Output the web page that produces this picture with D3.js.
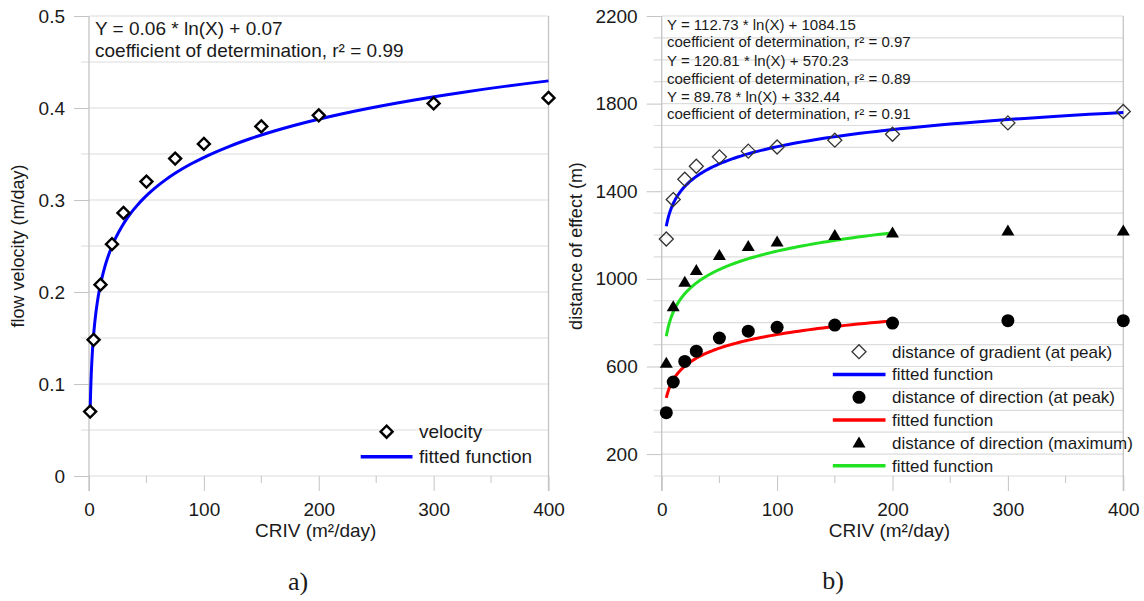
<!DOCTYPE html>
<html>
<head>
<meta charset="utf-8">
<script src="https://cdn.jsdelivr.net/npm/d3@7"></script>
<style>
  body { margin: 0; background: #fff; }
  svg text { font-family: "Liberation Sans", Arial, sans-serif; fill: #1a1a1a; }
  .tick text { font-size: 19px; }
  .tick line { stroke: #c4c4c4; }
</style>
</head>
<body>
<div id="vis"></div>
<script>
// data
const CRIV_A = [1, 4, 10, 20, 30, 50, 75, 100, 150, 200, 300, 400];
const VELOCITY = [0.07, 0.148, 0.208, 0.252, 0.286, 0.32, 0.345, 0.361, 0.38, 0.392, 0.405, 0.411];

const CRIV_B = [4, 10, 20, 30, 50, 75, 100, 150, 200, 300, 400];
const GRADIENT_PEAK = [1182, 1362, 1455, 1514, 1557, 1583, 1602, 1633, 1660, 1712, 1764];
const DIRECTION_PEAK = [389, 529, 623, 670, 730, 761, 779, 789, 798, 809, 809];
const DIRECTION_MAX = [615, 873, 985, 1038, 1107, 1148, 1168, 1198, 1209, 1218, 1218];

// fitted functions Y = a * ln(X) + b, with the range of X they are drawn on
const FIT_A = [0.06];
const FIT_B = [0.07];
const FIT_B_SLOPE = [112.73, 120.81, 89.78];
const FIT_B_INTERCEPT = [1084.15, 570.23, 332.44];
const FIT_B_R2 = ["0.97", "0.89", "0.91"];
const FIT_B_XMAX = [400, 200, 200];
const FIT_B_COLORS = ["#0000ff", "#22e022", "#ff0000"];

const X_TICKS = [0, 100, 200, 300, 400];
const Y_TICKS_A = [0, 0.1, 0.2, 0.3, 0.4, 0.5];
const Y_TICKS_B = [200, 600, 1000, 1400, 1800, 2200];

const FRAME_WIDTH = 1144;
const FRAME_HEIGHT = 601;

const SVG = d3.select("#vis").append("svg")
  .attr("width", FRAME_WIDTH)
  .attr("height", FRAME_HEIGHT);

const GRID = "#dcdcdc";
const AXIS = "#c4c4c4";

function diamond(r) { return "M0," + (-r) + "L" + r + ",0L0," + r + "L" + (-r) + ",0Z"; }
const TRIANGLE = "M0,-6.5L6.5,4.5L-6.5,4.5Z";

// draws the frame, grid, ticks and labels of one panel
function drawFrame(xs, ys, yTicks, yStep, yFmt) {
  const g = SVG.append("g");
  const [x0, x1] = xs.range();
  const [yb, yt] = ys.range();
  const [d0, d1] = ys.domain();

  // horizontal grid lines, minor ones stick out a little to the left
  const gridVals = d3.range(Math.round((d1 - d0) / yStep) + 1).map(i => d0 + i * yStep);
  g.selectAll(".grid").data(gridVals).enter().append("line")
    .attr("x1", d => yTicks.some(t => Math.abs(t - d) < 1e-9) ? x0 : x0 - 8)
    .attr("x2", x1)
    .attr("y1", d => ys(d)).attr("y2", d => ys(d))
    .attr("stroke", GRID).attr("stroke-width", 1.2);

  // minor x ticks
  g.selectAll(".minor").data([50, 150, 250, 350]).enter().append("line")
    .attr("x1", d => xs(d)).attr("x2", d => xs(d))
    .attr("y1", yb).attr("y2", yb + 7)
    .attr("stroke", AXIS);

  // left axis and right border
  g.selectAll(".side").data([0, 400]).enter().append("line")
    .attr("x1", d => xs(d)).attr("x2", d => xs(d))
    .attr("y1", yt).attr("y2", yb + 15)
    .attr("stroke", AXIS).attr("stroke-width", 1.3);

  g.append("g")
    .attr("transform", "translate(" + x0 + ",0)")
    .call(d3.axisLeft(ys).tickValues(yTicks).tickSize(15).tickPadding(9).tickFormat(yFmt))
    .call(a => a.select(".domain").remove());

  g.append("g")
    .attr("transform", "translate(0," + yb + ")")
    .call(d3.axisBottom(xs).tickValues(X_TICKS).tickSize(15).tickPadding(12))
    .call(a => a.select(".domain").remove());

  g.append("text")
    .attr("x", (x0 + x1) / 2 - 3).attr("y", 537)
    .attr("text-anchor", "middle").attr("font-size", 19)
    .text("CRIV (m²/day)");
}

function curvePoints(a, b, xmin, xmax) {
  return d3.range(121).map(i => {
    const x = xmin * Math.pow(xmax / xmin, i / 120);
    return [x, a * Math.log(x) + b];
  });
}

// ---------- panel a ----------
const X_SCALE1 = d3.scaleLinear().domain([0, 400]).range([89, 548.5]);
const Y_SCALE1 = d3.scaleLinear().domain([0, 0.5]).range([476, 16]);

drawFrame(X_SCALE1, Y_SCALE1, Y_TICKS_A, 0.05, d3.format(""));

SVG.append("path")
  .datum(curvePoints(FIT_A[0], FIT_B[0], CRIV_A[0], 400))
  .attr("d", d3.line().x(d => X_SCALE1(d[0])).y(d => Y_SCALE1(d[1])))
  .attr("fill", "none").attr("stroke", "#0000ff").attr("stroke-width", 3);

SVG.selectAll(".vel").data(CRIV_A).enter().append("path")
  .attr("d", diamond(6))
  .attr("transform", (d, i) => "translate(" + X_SCALE1(d) + "," + Y_SCALE1(VELOCITY[i]) + ")")
  .attr("fill", "#fff").attr("stroke", "#000").attr("stroke-width", 2.4);

SVG.append("text").attr("x", 95).attr("y", 35).attr("font-size", 19)
  .text("Y = " + FIT_A[0] + " * ln(X) + " + FIT_B[0]);
SVG.append("text").attr("x", 95).attr("y", 57).attr("font-size", 19)
  .text("coefficient of determination, r² = 0.99");

// legend a
SVG.append("path").attr("d", diamond(6))
  .attr("transform", "translate(386.6,431.7)")
  .attr("fill", "#fff").attr("stroke", "#000").attr("stroke-width", 2.4);
SVG.append("line").attr("x1", 360.7).attr("x2", 412.5).attr("y1", 456.7).attr("y2", 456.7)
  .attr("stroke", "#0000ff").attr("stroke-width", 3.5);
SVG.append("text").attr("x", 419).attr("y", 431.7).attr("dy", "0.35em").attr("font-size", 19).text("velocity");
SVG.append("text").attr("x", 419).attr("y", 456.7).attr("dy", "0.35em").attr("font-size", 19).text("fitted function");

SVG.append("text")
  .attr("transform", "translate(24,246) rotate(-90)")
  .attr("text-anchor", "middle").attr("font-size", 18)
  .text("flow velocity (m/day)");

SVG.append("text").attr("x", 298).attr("y", 590).attr("text-anchor", "middle")
  .attr("font-size", 26).style("font-family", "'Liberation Serif', 'Times New Roman', serif")
  .text("a)");

// ---------- panel b ----------
const X_SCALE2 = d3.scaleLinear().domain([0, 400]).range([661.7, 1123.3]);
const Y_SCALE2 = d3.scaleLinear().domain([100, 2200]).range([476, 16]);

drawFrame(X_SCALE2, Y_SCALE2, Y_TICKS_B, 100, d3.format("d"));

FIT_B_SLOPE.forEach((a, k) => {
  SVG.append("path")
    .datum(curvePoints(a, FIT_B_INTERCEPT[k], CRIV_B[0], FIT_B_XMAX[k]))
    .attr("d", d3.line().x(d => X_SCALE2(d[0])).y(d => Y_SCALE2(d[1])))
    .attr("fill", "none").attr("stroke", FIT_B_COLORS[k]).attr("stroke-width", 3);
});

SVG.selectAll(".grad").data(CRIV_B).enter().append("path")
  .attr("d", diamond(7))
  .attr("transform", (d, i) => "translate(" + X_SCALE2(d) + "," + Y_SCALE2(GRADIENT_PEAK[i]) + ")")
  .attr("fill", "none").attr("stroke", "#333").attr("stroke-width", 1.3);

SVG.selectAll(".dirp").data(CRIV_B).enter().append("circle")
  .attr("cx", d => X_SCALE2(d))
  .attr("cy", (d, i) => Y_SCALE2(DIRECTION_PEAK[i]))
  .attr("r", 6.5).attr("fill", "#000");

SVG.selectAll(".dirm").data(CRIV_B).enter().append("path")
  .attr("d", TRIANGLE)
  .attr("transform", (d, i) => "translate(" + X_SCALE2(d) + "," + Y_SCALE2(DIRECTION_MAX[i]) + ")")
  .attr("fill", "#000");

const EQ_Y = [30, 47, 66, 84, 102, 119];
FIT_B_SLOPE.forEach((a, k) => {
  SVG.append("text").attr("x", 667).attr("y", EQ_Y[2 * k]).attr("font-size", 15)
    .text("Y = " + a + " * ln(X) + " + FIT_B_INTERCEPT[k]);
  SVG.append("text").attr("x", 667).attr("y", EQ_Y[2 * k + 1]).attr("font-size", 15)
    .text("coefficient of determination, r² = " + FIT_B_R2[k]);
});

// legend b
const LEG_NAMES = ["distance of gradient (at peak)", "fitted function", "distance of direction (at peak)",
                   "fitted function", "distance of direction (maximum)", "fitted function"];
const LEG_Y = d3.range(6).map(i => 351.7 + i * 22.8);
const leg = SVG.append("g");
leg.selectAll("text").data(LEG_NAMES).enter().append("text")
  .attr("x", 892).attr("y", (d, i) => LEG_Y[i]).attr("dy", "0.35em")
  .attr("font-size", 17).text(d => d);
leg.append("path").attr("d", diamond(7)).attr("transform", "translate(859," + LEG_Y[0] + ")")
  .attr("fill", "none").attr("stroke", "#333").attr("stroke-width", 1.3);
leg.append("circle").attr("cx", 859).attr("cy", LEG_Y[2]).attr("r", 6.5).attr("fill", "#000");
leg.append("path").attr("d", TRIANGLE).attr("transform", "translate(859," + LEG_Y[4] + ")").attr("fill", "#000");
[0, 2, 1].forEach((k, j) => {
  leg.append("line").attr("x1", 832.8).attr("x2", 885.5)
    .attr("y1", LEG_Y[2 * j + 1]).attr("y2", LEG_Y[2 * j + 1])
    .attr("stroke", FIT_B_COLORS[k]).attr("stroke-width", 3.5);
});

SVG.append("text")
  .attr("transform", "translate(582,246) rotate(-90)")
  .attr("text-anchor", "middle").attr("font-size", 18)
  .text("distance of effect (m)");

SVG.append("text").attr("x", 833).attr("y", 589).attr("text-anchor", "middle")
  .attr("font-size", 26).style("font-family", "'Liberation Serif', 'Times New Roman', serif")
  .text("b)");
</script>
</body>
</html>
